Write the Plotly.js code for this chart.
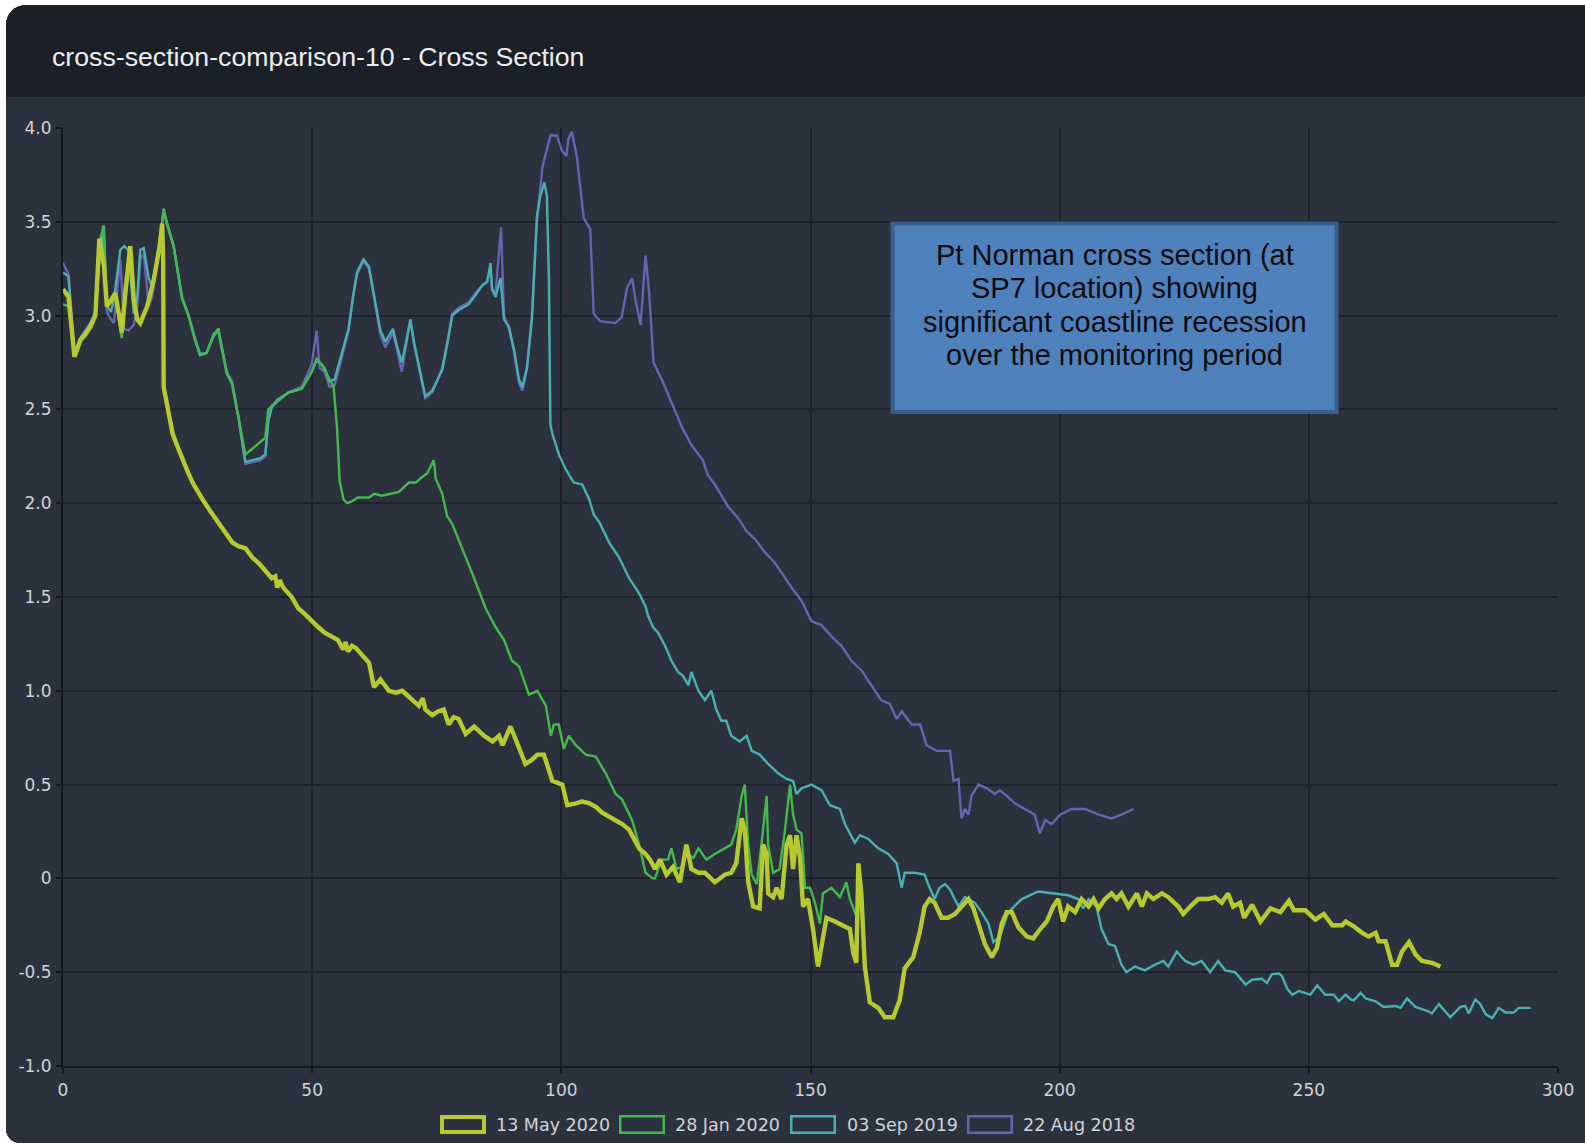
<!DOCTYPE html>
<html>
<head>
<meta charset="utf-8">
<script src="https://cdn.plot.ly/plotly-3.0.1.min.js"></script>
<style>
html,body{margin:0;padding:0;background:#ffffff;}
#wrap{position:absolute;left:6px;top:5px;width:1579px;height:1138px;border-radius:20px 0 0 14px;overflow:hidden;background:#2c323d;}
#chart{width:1579px;height:1138px;}
</style>
</head>
<body>
<div id="wrap"><div id="chart"></div></div>
<script>
// ---------- DATA ----------
const chartTitle = "cross-section-comparison-10 - Cross Section";
const seriesNames = ["13 May 2020", "28 Jan 2020", "03 Sep 2019", "22 Aug 2018"];
const xTickVals = [0, 50, 100, 150, 200, 250, 300];
const yTickVals = [-1, -0.5, 0, 0.5, 1, 1.5, 2, 2.5, 3, 3.5, 4];
const yTickText = ["-1.0", "-0.5", "0", "0.5", "1.0", "1.5", "2.0", "2.5", "3.0", "3.5", "4.0"];
const noteLines = ["Pt Norman cross section (at", "SP7 location) showing", "significant coastline recession", "over the monitoring period"];

const may2020X = [0,1.1,2.3,3.5,4.5,5.5,6.5,7.3,8.2,8.8,9.6,10.5,11.2,11.8,12.6,13.5,14.2,14.9,15.5,16.2,16.9,18.2,19.4,19.9,20.1,20.2,20.9,22,23,24,25,26,27,28,29.5,31.3,32.5,34,35.3,36.6,38,39.3,40.6,41.9,42.6,43,43.5,44.2,45.9,47.2,48.5,49.9,51.2,52.5,53.8,55.2,56.2,56.7,57.2,58,58.7,60,61.4,62.4,63.7,65.4,66.8,68.1,69.4,71.4,72.2,72.7,74.1,75.2,76.4,77.4,78.4,79.4,80.8,82.5,84.5,86.2,87.5,88.2,89.8,91.5,92.8,94,95.2,96.5,97.3,98.2,100.2,101.2,102.9,104.2,105.6,107,108.2,110.9,112.2,113.6,115.6,116.9,117.8,118.8,119.8,121.1,122.4,123.8,125.1,126.1,127.5,128.8,130.8,132.8,134.1,135.1,136.2,136.8,137.5,138.5,139.8,140.5,141.2,141.5,142.5,143.2,144.2,145.2,145.9,146.5,147.2,147.9,148.5,149.5,150.5,151.5,152.2,153.2,154.9,156.9,157.9,158.6,159.2,159.6,160.2,160.9,161.9,163.6,164.9,166.6,167.9,168.9,170.6,171.9,172.9,173.9,174.9,176.3,177.6,179,180.3,181.7,182.7,183.7,185,186.4,187.4,188.4,189.4,190.4,191.7,193.4,194.7,196.1,197.4,198.7,199.7,200.7,201.7,203.1,204.4,205.8,206.8,207.8,209.1,210.4,211.4,212.4,213.8,215.5,216.5,217.5,218.8,220.5,221.8,223.8,224.8,226.2,227.8,229.8,231.2,232.5,233.8,234.8,236.2,237,238.6,240.3,242.3,244.3,246,247,249.3,251.3,253,254.7,256.7,257.4,259,260.7,262,263.4,264,265.4,266.7,267.7,268.7,270.1,271.4,272.7,274.7,276.4];
const may2020Y = [3.14,3.1,2.78,2.87,2.9,2.94,3.0,3.41,3.27,3.05,3.08,3.12,3.01,2.91,3.15,3.37,3.09,2.98,2.96,3.0,3.05,3.19,3.37,3.49,3.3,2.62,2.52,2.37,2.3,2.23,2.17,2.11,2.06,2.02,1.96,1.89,1.85,1.79,1.77,1.76,1.71,1.68,1.64,1.6,1.61,1.55,1.59,1.55,1.5,1.44,1.41,1.37,1.34,1.31,1.29,1.27,1.22,1.26,1.21,1.24,1.23,1.19,1.15,1.02,1.06,1.0,0.99,1.0,0.97,0.92,0.96,0.9,0.87,0.89,0.9,0.82,0.86,0.85,0.77,0.81,0.76,0.73,0.76,0.71,0.81,0.69,0.61,0.63,0.66,0.66,0.6,0.52,0.5,0.39,0.4,0.41,0.4,0.38,0.35,0.31,0.29,0.26,0.16,0.13,0.1,0.05,0.1,0.02,0.06,-0.02,0.18,0.05,0.03,0.03,-0.02,0.02,0.03,0.08,0.32,0.26,-0.02,-0.15,-0.16,0.18,0.13,-0.08,-0.1,-0.05,-0.11,0.18,0.23,0.05,0.23,0.11,-0.15,-0.11,-0.27,-0.47,-0.37,-0.21,-0.23,-0.26,-0.27,-0.4,-0.45,0.08,-0.08,-0.47,-0.66,-0.69,-0.74,-0.74,-0.65,-0.48,-0.42,-0.29,-0.15,-0.11,-0.13,-0.21,-0.21,-0.19,-0.15,-0.11,-0.16,-0.24,-0.35,-0.42,-0.37,-0.24,-0.18,-0.18,-0.26,-0.31,-0.32,-0.27,-0.23,-0.15,-0.11,-0.23,-0.15,-0.18,-0.11,-0.15,-0.11,-0.16,-0.11,-0.08,-0.11,-0.08,-0.15,-0.08,-0.15,-0.08,-0.11,-0.08,-0.1,-0.15,-0.19,-0.15,-0.11,-0.11,-0.1,-0.13,-0.08,-0.15,-0.13,-0.21,-0.14,-0.23,-0.16,-0.18,-0.12,-0.17,-0.17,-0.22,-0.19,-0.25,-0.25,-0.23,-0.255,-0.29,-0.31,-0.29,-0.335,-0.335,-0.46,-0.46,-0.39,-0.34,-0.405,-0.44,-0.45,-0.47];

const jan2020X = [0,1.1,2.3,3.5,4.5,5.5,6.5,7.3,8.1,8.8,9.6,10.5,11.2,11.8,12.6,13.5,14.2,14.9,15.5,16.2,16.9,18.2,19.4,20.2,20.9,22.2,23.9,25.2,26.5,27.5,28.8,30.2,31.2,31.5,32.9,33.9,35.2,36.6,38,39.6,40.6,41.2,42.6,45.2,47.9,49.9,50.9,51.9,52.9,53.9,54.3,55,55.5,56.3,57,58,59.2,61.4,62.5,64,65.5,67.4,69.4,70.8,72.1,73.1,74.4,74.8,76.1,77.1,78.1,80.1,82.5,84.8,86.8,88.5,90.1,91.5,93.5,95.2,96.9,97.9,98.5,99.5,100.5,101.5,102.9,104.9,106.9,108.9,110.9,112.2,114.2,115.6,116.9,118.3,118.8,120.1,121.4,122.1,123.1,124.1,125.1,126.5,127.5,129.1,130.8,132.8,134.1,135.1,136.2,136.8,137.5,138.2,139.2,140.2,141.2,141.5,142.5,143.8,144.8,145.9,146.5,147.2,148.2,148.9,149.9,150.9,151.9,152.5,154.2,155.9,157.2,157.9,158.6,159.2];
const jan2020Y = [3.06,3.05,2.79,2.86,2.9,2.95,3.0,3.38,3.48,3.05,3.07,3.1,2.98,2.88,3.1,3.32,3.05,2.97,2.96,3.0,3.05,3.2,3.4,3.56,3.49,3.37,3.09,3.0,2.87,2.79,2.8,2.89,2.93,2.87,2.69,2.64,2.46,2.26,2.29,2.33,2.35,2.5,2.53,2.59,2.61,2.7,2.76,2.74,2.69,2.64,2.62,2.4,2.12,2.02,2.0,2.01,2.03,2.03,2.05,2.04,2.05,2.06,2.11,2.11,2.14,2.16,2.23,2.13,2.05,1.93,1.89,1.76,1.6,1.44,1.34,1.27,1.16,1.13,0.98,1.0,0.92,0.76,0.82,0.82,0.69,0.76,0.71,0.66,0.65,0.56,0.45,0.42,0.31,0.18,0.03,0.0,0.0,0.1,0.1,0.16,0.05,0.06,0.13,0.11,0.16,0.1,0.13,0.16,0.18,0.26,0.44,0.5,0.18,0.02,-0.03,0.19,0.44,0.18,0.03,0.05,0.24,0.5,0.34,0.26,0.24,-0.05,-0.05,-0.13,-0.24,-0.08,-0.05,-0.1,-0.02,-0.11,-0.16,-0.2];

const sep2019X = [0,1.1,2.3,3.5,4.5,5.5,6.5,7.3,8.2,8.8,9.6,10.2,11.5,12.3,13.1,14.2,14.9,15.5,16.2,17.2,17.9,19.5,20.2,20.9,22.2,23.9,25.2,26.5,27.5,28.8,30.2,31.2,31.5,32.9,33.9,35.2,36.6,38,39.6,40.6,41.2,41.9,43,45.2,47.9,49.9,50.9,52.5,53.5,54.5,55.8,57.3,58.2,59,60.3,61.4,62.4,63.7,64.7,66.2,67,68,68.7,69.7,70.5,71.7,72.7,74.1,76.1,77.4,78.1,79.4,81.4,82.8,84.1,85.1,85.8,86.1,86.8,87.8,88.5,89.5,90.5,91.5,92.2,93.1,94.1,95.1,95.8,96.6,97.1,97.5,97.8,98.2,99.5,100.9,102.5,104.2,105.6,106.5,107.6,109.6,111.6,113.6,115.6,116.9,117.4,118.4,119.4,120.8,122.1,123.4,124.4,125.5,126.1,127.5,128.8,130.1,131.1,132.1,133.1,134.1,135.8,137.2,138.2,139.8,141.5,143.5,145.2,146.5,147.2,148.2,150.2,152.2,153.9,155.9,156.9,158.9,159.9,161.6,163.6,165.6,167.3,168.3,168.9,170.9,172.9,173.6,174.9,175.9,177,178,179.7,181,183,184.3,185.7,186.7,188,189.7,192.4,195.7,199.1,201.7,203.7,204.7,205.8,207.4,208.4,209.8,211.1,212.4,213.4,215.1,217.1,219.1,220.8,221.8,223.5,225.2,226.8,228.5,230.2,231.8,233.2,235.2,237.3,238.6,240.6,241.6,242.6,244,244.6,245.7,246.7,248,250.3,251.7,253.3,255,256,257.4,258.4,259,260.4,261.4,263.4,265,267.4,268.4,269.7,271.4,274.1,274.7,276.1,278.4,280.4,281.4,282.1,283.4,284.4,285.5,286.8,288.1,289.5,291.1,292.1,294.5];
const sep2019Y = [3.23,3.21,2.8,2.88,2.92,2.96,3.02,3.3,3.48,3.05,3.02,3.08,3.35,3.37,3.35,3.01,3.1,3.35,3.36,3.2,3.15,3.41,3.57,3.49,3.37,3.09,3.0,2.87,2.79,2.8,2.9,2.93,2.88,2.69,2.64,2.46,2.22,2.23,2.24,2.26,2.44,2.51,2.55,2.59,2.61,2.7,2.77,2.72,2.65,2.66,2.78,2.93,3.1,3.23,3.3,3.26,3.11,2.92,2.86,2.93,2.84,2.75,2.84,2.98,2.85,2.69,2.57,2.6,2.71,2.89,3.0,3.03,3.06,3.11,3.16,3.18,3.28,3.14,3.1,3.2,2.98,2.94,2.82,2.66,2.62,2.72,2.98,3.53,3.64,3.71,3.64,3.2,2.42,2.37,2.26,2.18,2.11,2.1,2.02,1.94,1.9,1.79,1.71,1.6,1.52,1.45,1.4,1.34,1.31,1.24,1.16,1.1,1.08,1.03,1.1,1.0,0.95,1.0,0.9,0.84,0.84,0.76,0.73,0.76,0.68,0.66,0.61,0.56,0.53,0.52,0.45,0.48,0.5,0.47,0.39,0.37,0.29,0.19,0.23,0.21,0.16,0.13,0.08,-0.05,0.03,0.03,0.02,-0.03,-0.11,-0.05,-0.03,-0.06,-0.15,-0.1,-0.13,-0.18,-0.24,-0.34,-0.31,-0.18,-0.11,-0.07,-0.08,-0.09,-0.11,-0.16,-0.11,-0.15,-0.27,-0.35,-0.36,-0.46,-0.5,-0.47,-0.49,-0.46,-0.44,-0.47,-0.39,-0.44,-0.46,-0.44,-0.5,-0.44,-0.49,-0.5,-0.566,-0.54,-0.535,-0.557,-0.51,-0.507,-0.52,-0.59,-0.62,-0.6,-0.62,-0.57,-0.62,-0.62,-0.655,-0.62,-0.645,-0.65,-0.61,-0.64,-0.655,-0.685,-0.68,-0.69,-0.64,-0.685,-0.71,-0.72,-0.67,-0.74,-0.685,-0.68,-0.72,-0.645,-0.67,-0.725,-0.745,-0.69,-0.715,-0.715,-0.69,-0.69];

const aug2018X = [0,1.1,2.3,3.5,4.5,5.5,6.5,7.3,8.2,8.8,9.6,10.2,11.5,12.3,13.1,14.2,14.9,15.5,16.2,17.2,17.9,19.5,20.2,20.9,22.2,23.9,25.2,26.5,27.5,28.8,30.2,31.2,31.5,32.9,33.9,35.2,36.6,38,39.6,40.6,41.2,41.9,43,45.2,47.9,49.9,50.9,51.5,52.5,53.5,54.5,55.8,57.3,58.2,59,60.3,61.4,62.4,63.7,64.7,66.2,67,68,68.7,69.7,70.5,71.7,72.7,74.1,76.1,77.4,78.1,79.4,81.4,82.8,84.1,85.1,85.8,86.1,86.8,87.9,88.5,89.5,90.5,91.5,92.2,93.1,94.1,95.1,96.2,97.8,99.1,100.1,101,101.4,102.1,103.1,104.5,105.8,106.5,107.8,110.8,112.1,113.2,114.2,114.9,115.9,116.9,117.6,118.5,120.3,122.8,124.3,126.1,128.4,129.4,130.8,133.5,135.5,137.2,138.8,140.8,142.9,144.2,146.2,148.2,150.2,152.2,154.2,156.2,158.2,160.2,162.2,164.2,165.9,167.3,168.3,170.3,172,173.3,175.3,177,178,178.7,179.7,180.3,181,181.7,182.3,183.7,185.4,187,188,189.4,191,193,195,196,197.1,198.4,200.1,202.4,205.1,207.8,210.4,212.4,214.8];
const aug2018Y = [3.28,3.22,2.8,2.88,2.92,2.96,3.02,3.3,3.45,3.02,2.98,2.96,3.3,2.93,2.92,2.95,3.05,3.3,3.33,3.05,3.1,3.4,3.55,3.48,3.37,3.1,3.0,2.88,2.8,2.8,2.89,2.92,2.88,2.7,2.65,2.46,2.21,2.22,2.23,2.25,2.44,2.52,2.55,2.59,2.62,2.74,2.92,2.72,2.7,2.62,2.63,2.76,2.92,3.1,3.22,3.29,3.25,3.1,2.9,2.83,2.91,2.82,2.7,2.82,2.97,2.84,2.68,2.56,2.59,2.72,2.9,3.01,3.04,3.07,3.12,3.16,3.18,3.24,3.14,3.12,3.47,3.0,2.93,2.81,2.64,2.6,2.72,3.0,3.5,3.79,3.96,3.96,3.88,3.85,3.94,3.98,3.85,3.52,3.46,3.01,2.97,2.96,2.99,3.15,3.2,3.08,2.95,3.32,3.13,2.75,2.65,2.5,2.4,2.31,2.23,2.15,2.1,1.98,1.92,1.85,1.81,1.74,1.68,1.63,1.55,1.48,1.37,1.35,1.29,1.24,1.16,1.11,1.03,0.95,0.93,0.85,0.89,0.82,0.82,0.71,0.68,0.68,0.68,0.52,0.53,0.32,0.37,0.34,0.44,0.5,0.48,0.45,0.47,0.44,0.4,0.37,0.34,0.24,0.31,0.29,0.34,0.37,0.37,0.34,0.32,0.34,0.37];

// ---------- STYLE ----------
const colors = {may: "#b6ca30", jan: "#44b84d", sep: "#4aafb0", aug: "#6a61b2"};
const bg = "#2c323d", header = "#1b1f26", grid = "#1e222a", axisCol = "#14171c", tickCol = "#d0d3d8";
const W = 1579, H = 1138, M = {l: 57, r: 27, t: 123, b: 77};
const PW = W - M.l - M.r, PH = H - M.t - M.b;
const px = x => (x - M.l) / PW;          // local px -> paper x
const py = y => (H - M.b - y) / PH;      // local px -> paper y

const traces = [
  {name: seriesNames[3], x: aug2018X, y: aug2018Y, color: colors.aug, w: 2.4},
  {name: seriesNames[2], x: sep2019X, y: sep2019Y, color: colors.sep, w: 2.4},
  {name: seriesNames[1], x: jan2020X, y: jan2020Y, color: colors.jan, w: 2.4},
  {name: seriesNames[0], x: may2020X, y: may2020Y, color: colors.may, w: 4.4}
].map(s => ({type: "scatter", mode: "lines", name: s.name, x: s.x, y: s.y,
  line: {color: s.color, width: s.w}, hoverinfo: "x+y+name", showlegend: false}));

const shapes = [
  {type: "rect", xref: "paper", yref: "paper", x0: px(-10), x1: px(W + 10), y0: py(92), y1: py(-10),
   fillcolor: header, line: {width: 0}, layer: "below"},
  {type: "rect", xref: "paper", yref: "paper", x0: px(886.5), x1: px(1330.5), y0: py(407), y1: py(218.5),
   fillcolor: "#4f81bd", line: {color: "#3b5e8c", width: 4}, layer: "above"}
];
const annotations = noteLines.map((t, i) => ({
  text: t, xref: "paper", yref: "paper", x: px(1108.5), y: py(250 + i * 33.4),
  xanchor: "center", yanchor: "middle", showarrow: false,
  font: {family: "Liberation Sans, Arial, sans-serif", size: 29, color: "#0c0c0c"}
}));

// legend (manual, box icons)
const legendItems = [
  {name: seriesNames[0], color: colors.may, bx: 434, tx: 488, bw: 4},
  {name: seriesNames[1], color: colors.jan, bx: 613, tx: 667, bw: 2.5},
  {name: seriesNames[2], color: colors.sep, bx: 784, tx: 839, bw: 2.5},
  {name: seriesNames[3], color: colors.aug, bx: 961, tx: 1015, bw: 2.5}
];
legendItems.forEach(it => {
  const h = it.bw / 2;
  shapes.push({type: "rect", xref: "paper", yref: "paper",
    x0: px(it.bx + h), x1: px(it.bx + 46 - h), y0: py(1129 - h), y1: py(1110 + h),
    fillcolor: bg, line: {color: it.color, width: it.bw}, layer: "above"});
  annotations.push({text: it.name, xref: "paper", yref: "paper", x: px(it.tx), y: py(1119.5),
    xanchor: "left", yanchor: "middle", showarrow: false,
    font: {family: "DejaVu Sans, sans-serif", size: 17.5, color: tickCol}});
});

const axisCommon = {
  showgrid: true, gridcolor: grid, gridwidth: 1.6, zeroline: false,
  showline: true, linecolor: axisCol, linewidth: 2,
  ticks: "outside", ticklen: 5, tickcolor: axisCol, tickwidth: 1.5,
  tickfont: {family: "DejaVu Sans, sans-serif", size: 17, color: tickCol},
  fixedrange: true
};

const layout = {
  width: W, height: H, margin: M,
  paper_bgcolor: bg, plot_bgcolor: bg,
  title: {text: chartTitle, xref: "container", yref: "container", x: 46 / W, xanchor: "left",
    y: 1 - 52 / H, yanchor: "middle",
    font: {family: "Liberation Sans, Arial, sans-serif", size: 26.7, color: "#eceef1"}},
  xaxis: Object.assign({}, axisCommon, {range: [0, 300], tickmode: "array", tickvals: xTickVals, ticklabelstandoff: 3}),
  yaxis: Object.assign({}, axisCommon, {range: [-1, 4], tickmode: "array", tickvals: yTickVals, ticktext: yTickText, ticklabelstandoff: 1}),
  showlegend: false,
  shapes: shapes, annotations: annotations,
  hovermode: "closest"
};

Plotly.newPlot("chart", traces, layout, {displayModeBar: false, responsive: false});
</script>
</body>
</html>
